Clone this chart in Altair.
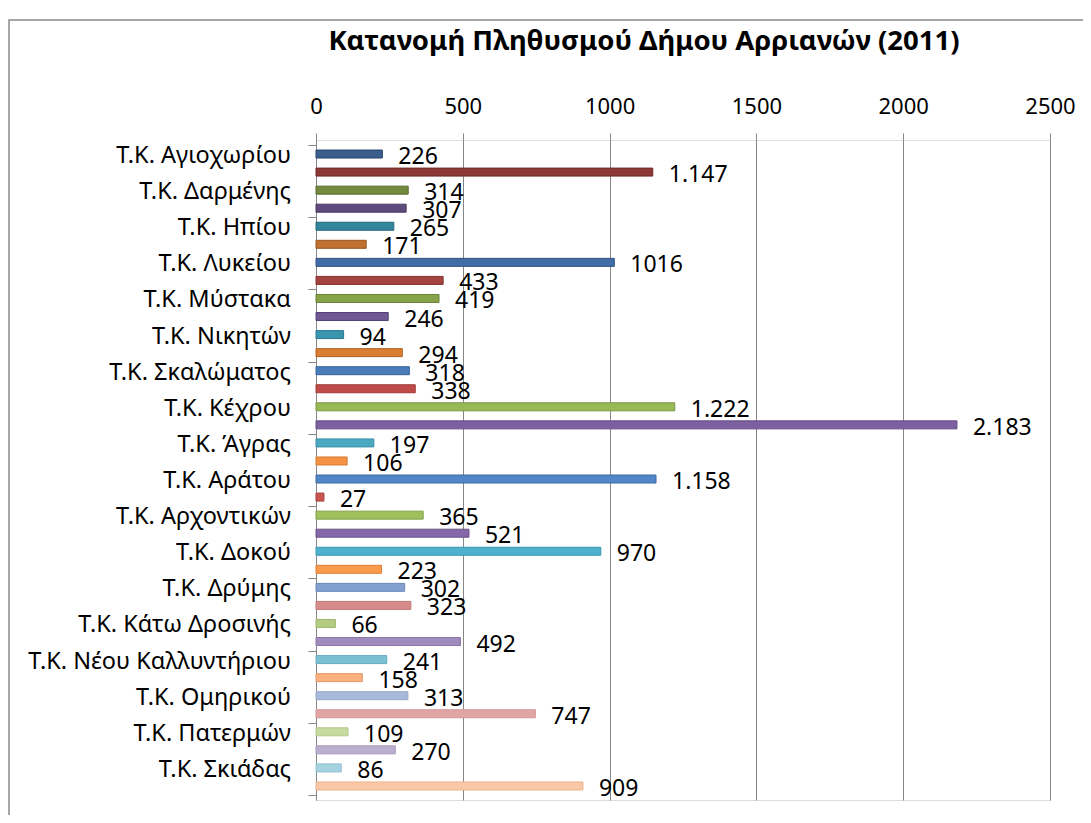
import altair as alt
import pandas as pd

title_text = "Κατανομή Πληθυσμού Δήμου Αρριανών (2011)"

shown_names = [
    "Τ.Κ. Αγιοχωρίου", "Τ.Κ. Δαρμένης", "Τ.Κ. Ηπίου", "Τ.Κ. Λυκείου",
    "Τ.Κ. Μύστακα", "Τ.Κ. Νικητών", "Τ.Κ. Σκαλώματος", "Τ.Κ. Κέχρου",
    "Τ.Κ. Άγρας", "Τ.Κ. Αράτου", "Τ.Κ. Αρχοντικών", "Τ.Κ. Δοκού",
    "Τ.Κ. Δρύμης", "Τ.Κ. Κάτω Δροσινής", "Τ.Κ. Νέου Καλλυντήριου",
    "Τ.Κ. Ομηρικού", "Τ.Κ. Πατερμών", "Τ.Κ. Σκιάδας",
]

values = [226, 1147, 314, 307, 265, 171,
          1016, 433, 419, 246, 94, 294,
          318, 338, 1222, 2183, 197, 106,
          1158, 27, 365, 521, 970, 223,
          302, 323, 66, 492, 241, 158,
          313, 747, 109, 270, 86, 909]

value_labels = ["226", "1.147", "314", "307", "265", "171",
                "1016", "433", "419", "246", "94", "294",
                "318", "338", "1.222", "2.183", "197", "106",
                "1.158", "27", "365", "521", "970", "223",
                "302", "323", "66", "492", "241", "158",
                "313", "747", "109", "270", "86", "909"]

x_ticks = [0, 500, 1000, 1500, 2000, 2500]

fills = ["#3B5E8C", "#8C3836", "#72893E", "#5E4A7D", "#34869C", "#C07030",
         "#416CA6", "#A54340", "#87A34A", "#6F5794", "#3A95AE", "#D97E32",
         "#4A7DBA", "#BE4B48", "#98B954", "#7D60A0", "#4BA9C2", "#F49343",
         "#5087C6", "#C85552", "#A0C05E", "#8668AA", "#4EB2CD", "#F99B4C",
         "#819FD0", "#D58C8A", "#B3CC82", "#A08CBC", "#7CC0D4", "#FAB07F",
         "#A9B9DA", "#E0A6A5", "#C7DAA0", "#BBAECF", "#A5D3E0", "#FBC8A7"]

strokes = ["#2A4670", "#6E2A28", "#566A2E", "#46385E", "#236779", "#9A5620",
           "#2F5284", "#843230", "#6A823A", "#554274", "#2C7891", "#B26223",
           "#37629A", "#9E3A37", "#7B9843", "#634A84", "#3990A8", "#D47A30",
           "#3E6AA3", "#A43F3C", "#82A046", "#6A5089", "#3B94AD", "#E07F33",
           "#6C8BBB", "#C07876", "#9DB76E", "#8B77A8", "#67ABC0", "#E49A6A",
           "#97A8CB", "#D09594", "#B1C68A", "#A899BE", "#8FBFCE", "#E8B28F"]

n = len(values)
idx = list(range(n))
df = pd.DataFrame({"idx": idx, "value": values, "lab": value_labels})
df_names = pd.DataFrame({"k": list(range(len(shown_names))), "name": shown_names})

FONT = "Noto Sans"

y_scale = alt.Scale(domain=[0, n], reverse=True, nice=False, zero=False)

y_enc = alt.Y(
    "pos:Q",
    scale=y_scale,
    axis=alt.Axis(
        title=None, values=list(range(n + 1)), labels=False,
        tickSize=8, tickColor="#868686", domainColor="#868686", grid=False,
    ),
)

x_enc = alt.X(
    "value:Q",
    scale=alt.Scale(domain=[0, 2500], nice=False),
    axis=alt.Axis(
        title=None, orient="top", values=x_ticks, format="d",
        labelFont=FONT, labelFontSize=22, labelColor="#000000",
        labelFlush=False, labelPadding=15, tickSize=7, tickColor="#868686",
        domain=False, grid=True, gridColor="#868686", gridWidth=1,
    ),
)

base = alt.Chart(df).transform_calculate(pos="datum.idx + 0.5")

bars = base.mark_bar(orient="horizontal", size=8, strokeWidth=1).encode(
    x=x_enc,
    y=y_enc,
    fill=alt.Fill("idx:N", scale=alt.Scale(domain=idx, range=fills), legend=None),
    stroke=alt.Stroke("idx:N", scale=alt.Scale(domain=idx, range=strokes), legend=None),
)

texts = base.mark_text(align="left", baseline="middle", dx=16, dy=3,
                       font=FONT, fontSize=23, color="#000000").encode(
    x="value:Q",
    y="pos:Q",
    text="lab:N",
)

names = alt.Chart(df_names).transform_calculate(
    pos="2 * datum.k + 0.5"
).mark_text(align="right", baseline="middle", dy=2,
            font=FONT, fontSize=23.5, color="#000000").encode(
    x=alt.value(-25),
    y=alt.Y("pos:Q"),
    text="name:N",
)

title = alt.Chart(pd.DataFrame({"t": [title_text]})).mark_text(
    align="center", baseline="middle", font=FONT, fontSize=27.5,
    fontWeight="bold", color="#000000"
).encode(x=alt.value(328), y=alt.value(-98), text="t:N")

frame = alt.Chart(pd.DataFrame({"a": [0]})).mark_rect(
    fillOpacity=0, stroke="#8a8a8a", strokeWidth=1.5
).encode(
    x=alt.value(-307), x2=alt.value(800), y=alt.value(-120), y2=alt.value(720)
)

chart = alt.layer(frame, bars, texts, names, title).properties(
    width=734, height=660,
    autosize=alt.AutoSizeParams(type="none"),
    padding={"left": 308, "top": 132, "right": 33, "bottom": 15},
).configure_view(fill="#E7E7E7", stroke=None).configure(background="#FFFFFF")

chart.save("out.html", embed_options={"renderer": "svg", "actions": False})
